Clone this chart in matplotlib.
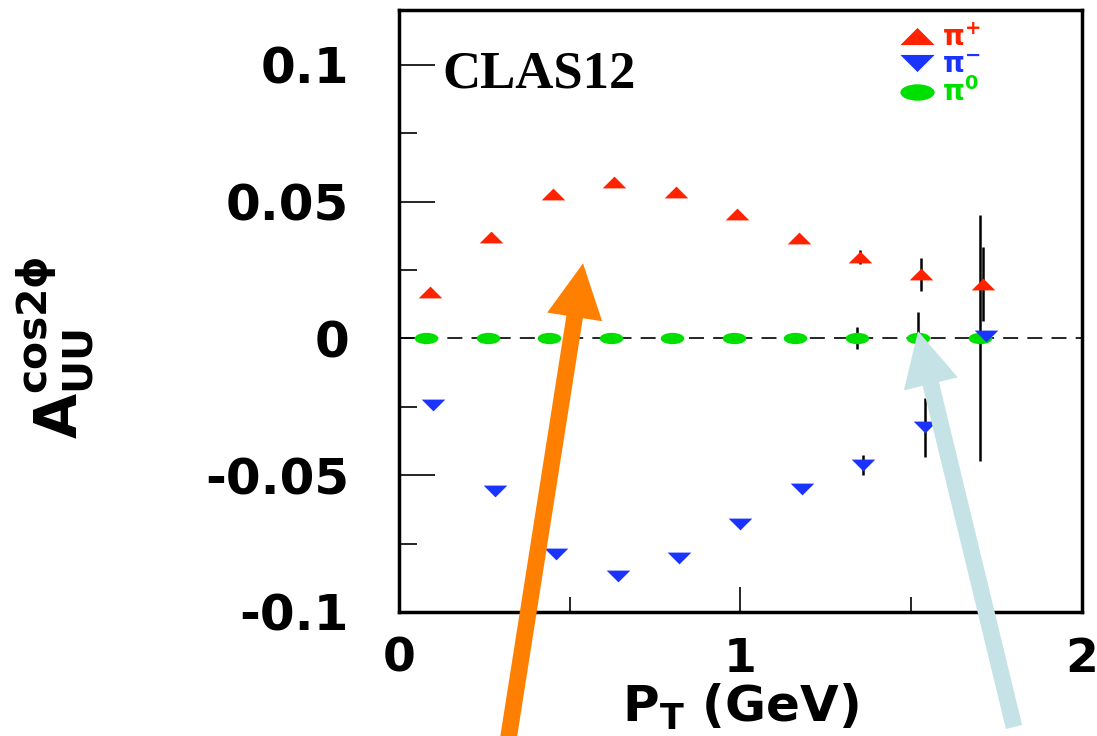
import matplotlib
matplotlib.use('Agg')
import matplotlib.pyplot as plt
from matplotlib.path import Path
from matplotlib.transforms import Affine2D
from matplotlib.ticker import MultipleLocator, FuncFormatter
from matplotlib.lines import Line2D
import numpy as np

# P_T bin centres (GeV)
pt_bins = [0.09, 0.27, 0.45, 0.63, 0.81, 0.99, 1.17, 1.35, 1.53, 1.71]

# A_UU^cos2phi per pion species
a_pip = [0.0168, 0.0369, 0.0526, 0.0573, 0.0535, 0.0456, 0.0367, 0.0297, 0.0234, 0.0200]
err_pip = [0, 0, 0, 0, 0, 0, 0, 0.0027, 0.0060, 0.0135]

a_pim = [-0.0245, -0.0558, -0.0788, -0.0870, -0.0803, -0.0679, -0.0551, -0.0463, -0.0325, 0.0007]
err_pim = [0, 0, 0, 0, 0, 0, 0, 0.0035, 0.0107, 0]

a_pi0 = [0, 0, 0, 0, 0, 0, 0, 0, 0, 0]
err_pi0 = [0, 0, 0, 0, 0, 0, 0, 0.0040, 0.0095, 0.0450]

species = [r'$\mathrm{\pi}^{+}$', r'$\mathrm{\pi}^{-}$', r'$\mathrm{\pi}^{0}$']

RED = '#ff2200'
BLUE = '#1a33ff'
GREEN = '#00e000'

plt.rcParams['font.family'] = 'DejaVu Sans'
plt.rcParams['font.weight'] = 'bold'
plt.rcParams['mathtext.fontset'] = 'dejavusans'
plt.rcParams['axes.unicode_minus'] = False

# flat ROOT-style markers
tri_up = Path([(-1, -0.5), (1, -0.5), (0, 0.5), (-1, -0.5)],
              [Path.MOVETO, Path.LINETO, Path.LINETO, Path.CLOSEPOLY])
tri_down = Path([(-1, 0.5), (1, 0.5), (0, -0.5), (-1, 0.5)],
                [Path.MOVETO, Path.LINETO, Path.LINETO, Path.CLOSEPOLY])
ellipse = Path.unit_circle().transformed(Affine2D().scale(1, 0.48))

fig = plt.figure(figsize=(10.97, 7.36), dpi=100)
ax = fig.add_axes([0.3637, 0.1685, 0.6226, 0.8179])

x = np.array(pt_bins)
ax.axhline(0, color='black', lw=1.2, linestyle=(0, (9, 5.5)), zorder=1)

series = [
    (x, a_pip, err_pip, tri_up, RED),
    (x - 0.01, a_pi0, err_pi0, ellipse, GREEN),
    (x + 0.01, a_pim, err_pim, tri_down, BLUE),
]
for xs, ys, es, mk, col in series:
    ax.errorbar(xs, ys, yerr=es, fmt='none', ecolor='black',
                elinewidth=1.8, capsize=0, zorder=2)
    ax.plot(xs, ys, linestyle='none', marker=mk, markersize=17,
            color=col, markeredgewidth=0, zorder=3)

ax.set_xlim(0, 2)
ax.set_ylim(-0.1, 0.12)

ax.xaxis.set_major_locator(MultipleLocator(1))
ax.xaxis.set_minor_locator(MultipleLocator(0.5))
ax.yaxis.set_major_locator(MultipleLocator(0.05))
ax.yaxis.set_minor_locator(MultipleLocator(0.025))
fmt = FuncFormatter(lambda v, p: f'{round(v, 3) + 0:g}')
ax.xaxis.set_major_formatter(fmt)
ax.yaxis.set_major_formatter(fmt)

ax.tick_params(axis='both', which='both', direction='in', width=1.2)
ax.tick_params(axis='y', which='major', length=26, pad=36, labelsize=36)
ax.tick_params(axis='y', which='minor', length=13)
ax.tick_params(axis='x', which='major', length=18, pad=18, labelsize=34)
ax.tick_params(axis='x', which='minor', length=11)

for s in ax.spines.values():
    s.set_linewidth(2.5)

ax.set_xlabel(r'$\mathbf{P}_{\mathbf{T}}$ (GeV)', fontsize=36,
              fontweight='bold', labelpad=0)
fig.text(55 / 1097, 1 - 348 / 736,
         r'$\mathbf{A}^{\mathrm{cos2\phi}}_{\mathrm{UU}}$',
         rotation=90, ha='center', va='center', fontsize=42)

ax.text(0.064, 0.872, 'CLAS12', transform=ax.transAxes,
        family='Liberation Serif', fontweight='bold', fontsize=38,
        va='baseline', ha='left')

handles = [
    Line2D([], [], linestyle='none', marker=tri_up, markersize=17,
           color=RED, markeredgewidth=0),
    Line2D([], [], linestyle='none', marker=tri_down, markersize=17,
           color=BLUE, markeredgewidth=0),
    Line2D([], [], linestyle='none', marker=ellipse, markersize=17,
           color=GREEN, markeredgewidth=0),
]
ax.legend(handles, species, loc='upper left', bbox_to_anchor=(0.72, 0.995),
          frameon=False, markerscale=1.45, fontsize=20, labelspacing=-0.05,
          handlelength=1.1, handletextpad=0.35, borderaxespad=0,
          labelcolor=[RED, BLUE, GREEN])

# highlight arrows drawn over the frame
ax.annotate('', xy=(0.539, 0.0274), xycoords='data',
            xytext=(505, -24), textcoords='figure pixels',
            arrowprops=dict(arrowstyle='simple,head_length=3.9,head_width=4.0,tail_width=1.2',
                            mutation_scale=10, color='#ff7f00', lw=0,
                            shrinkA=0, shrinkB=0),
            annotation_clip=False, zorder=5)
ax.annotate('', xy=(1.52, 0.0026), xycoords='data',
            xytext=(1014, 9), textcoords='figure pixels',
            arrowprops=dict(arrowstyle='simple,head_length=3.9,head_width=4.0,tail_width=1.2',
                            mutation_scale=10, color='#c5e3e6', lw=0,
                            shrinkA=0, shrinkB=0),
            annotation_clip=False, zorder=5)

plt.savefig('out.png', dpi=100)
plt.close()
print('Saved: out.png')
